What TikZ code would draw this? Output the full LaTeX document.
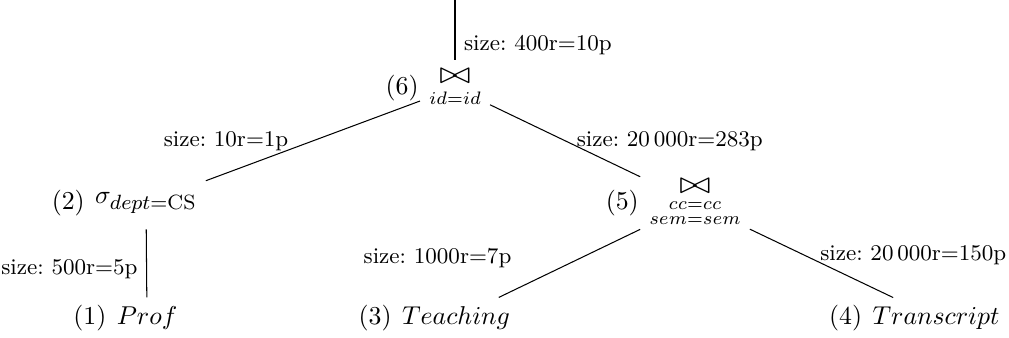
\documentclass[tikz,border=0pt]{standalone}
\usepackage{amsmath,amssymb,graphicx}
\frenchspacing
\newcommand{\bigjoin}{\mathop{\raisebox{1.5pt}{\scalebox{1.45}[1.2]{$\bowtie$}}}\limits}
\begin{document}
\begin{tikzpicture}[
		x=0.3876pt, y=-0.3876pt,
		label distance=-3pt,
		size/.style={font=\fontsize{8.7}{10}\selectfont},
		]
		\useasboundingbox (0,0) rectangle (1009,338);
		\coordinate (top) at (455,0);
		\node[label=left:(6)] (op6) at (455,88) {$\bigjoin_{id=id}$};
		\node[label=left:(2), inner ysep=6pt] (op2) at (146,203) {$\sigma_{\mbox{\fontsize{8}{9}\selectfont$dept{=}\mathrm{CS}$}}$};
		\node[label=left:(5)] (op5) at (695,203) {$\bigjoin_{\substack{cc=cc\\ sem=sem}}$};
		\node[label=left:(1)] (op1) at (147,318) {$Prof$};
		\node[label=left:(3)] (op3) at (456,318) {$Teaching$};
		\node[label=left:(4)] (op4) at (936,318) {$Transcript$};
		\draw (top) -- (op6) node[size, pos=.75, anchor=west] {size: 400r=10p};
		\draw (op6) -- (op2) node[size, midway, anchor=east, xshift=-6pt] {size: 10r=1p};
		\draw (op6) -- (op5) node[size, midway, anchor=west, xshift=1pt] {size: 20\,000r=283p};
		\draw (op2) -- (op1) node[size, pos=.58, anchor=east] {size: 500r=5p};
		\draw (op5) -- (op3) node[size, midway, anchor=east, xshift=-19pt, yshift=2pt] {size: 1000r=7p};
		\draw (op5) -- (op4) node[size, midway, anchor=west, xshift=-4pt, yshift=3pt] {size: 20\,000r=150p};
	\end{tikzpicture}
\end{document}
